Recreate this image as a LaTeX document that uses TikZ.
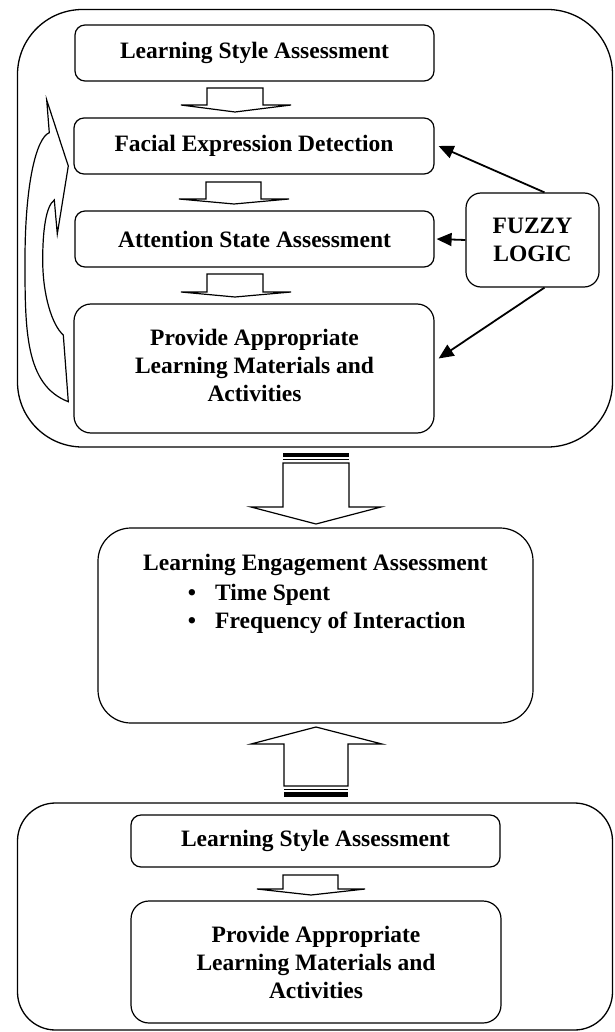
\documentclass[tikz,border=0pt]{standalone}
\usepackage{fontspec}
\setmainfont{Liberation Serif}
\usetikzlibrary{arrows.meta,calc}
\begin{document}
\begin{tikzpicture}[x=1pt,y=-1pt,
  txt/.style={font=\fontsize{23.5pt}{28pt}\selectfont\bfseries, align=center, inner sep=0pt},
  box/.style={txt, draw, line width=1.2pt, rounded corners=10pt},
  container/.style={draw, line width=1.3pt, inner sep=0pt},
  blockarrow/.style={draw, line width=1.2pt, fill=white, line join=miter},
  fz/.style={line width=1.8pt, -{Triangle[length=15pt,width=13pt]}}
]
\useasboundingbox (0,0) rectangle (614,1032);

% containers
\node[container, rounded corners=65pt, minimum width=595pt, minimum height=437.5pt] (topc) at (315,228.25) {};
\node[container, rounded corners=38pt, minimum width=595pt, minimum height=227pt] (botc) at (315,916.5) {};

% top section boxes
\node[box, minimum width=359pt, minimum height=56pt] (ls1) at (254.5,53) {Learning Style Assessment};
\node[box, minimum width=360pt, minimum height=56pt] (fed) at (254,146) {Facial Expression Detection};
\node[box, minimum width=359pt, minimum height=56pt] (asa) at (254.5,239) {Attention State Assessment};
\node[box, rounded corners=17pt, minimum width=360pt, minimum height=129pt] (pal1) at (254,368.5) {};
\node[txt] (pal1t) at (254.5,365) {Provide Appropriate\\Learning Materials and\\Activities};
\node[box, rounded corners=15pt, minimum width=133pt, minimum height=94pt] (fuzzy) at (532.5,240) {FUZZY\\LOGIC};

% fuzzy connectors
\draw[fz] ([xshift=12pt]fuzzy.north) -- ([xshift=4pt]fed.east);
\draw[fz] (fuzzy.west) -- ([xshift=2pt]asa.east);
\draw[fz] ([xshift=12pt]fuzzy.south) -- ([xshift=4pt,yshift=10pt]pal1.east);

% small block arrows (top section)
\draw[blockarrow] (207,88) -- (263,88) -- (263,105) -- (291,105) -- (235,112) -- (181,105) -- (207,105) -- cycle;
\draw[blockarrow] (206,182) -- (261,182) -- (261,199) -- (289,199) -- (234,204) -- (179,199) -- (206,199) -- cycle;
\draw[blockarrow] (207,274) -- (263,274) -- (263,292) -- (291,292) -- (235,297) -- (181,292) -- (207,292) -- cycle;

% curved feedback arrow
\draw[line width=1.2pt, line join=miter]
  (68.3,401.7) .. controls (25,385) and (25,330) .. (25,260)
  .. controls (25,185) and (36,138) .. (49.3,132.7)
  -- (46.7,100) -- (68.3,166) -- (57.3,234) -- (54.3,200)
  .. controls (46,206) and (42.7,230) .. (42.7,260)
  .. controls (42.7,295) and (52,325) .. (63.3,335)
  -- cycle;

% middle box
\node[container, line width=1.2pt, rounded corners=33pt, minimum width=435pt, minimum height=195pt] (eng) at (315.5,625.5) {};
\node[txt] (engt) at (315.5,565) {Learning Engagement Assessment};
\node[txt] (bul1) at (192,595) {•};
\node[txt, anchor=west] (it1) at (215,595) {Time Spent};
\node[txt] (bul2) at (192,623) {•};
\node[txt, anchor=west] (it2) at (215,623) {Frequency of Interaction};

% big down arrow
\fill (283,453) rectangle (349,457);
\draw[line width=1.2pt] (283,459.5) -- (349,459.5);
\draw[blockarrow] (283,463) -- (349,463) -- (349,507) -- (381,507) -- (316,524) -- (251,507) -- (283,507) -- cycle;

% big up arrow
\draw[blockarrow] (316,727) -- (382,744) -- (348,744) -- (348,786) -- (284,786) -- (284,744) -- (251,744) -- cycle;
\draw[line width=1.2pt] (284,789.5) -- (348,789.5);
\fill (284,792) rectangle (348,797);

% bottom section
\node[box, minimum width=369pt, minimum height=52pt] (ls2) at (315.5,841) {Learning Style Assessment};
\draw[blockarrow] (283,875) -- (338,875) -- (338,889) -- (365,889) -- (311,895) -- (257,889) -- (283,889) -- cycle;
\node[box, rounded corners=18pt, minimum width=370pt, minimum height=122pt] (pal2) at (316,962) {Provide Appropriate\\Learning Materials and\\Activities};
\end{tikzpicture}
\end{document}
